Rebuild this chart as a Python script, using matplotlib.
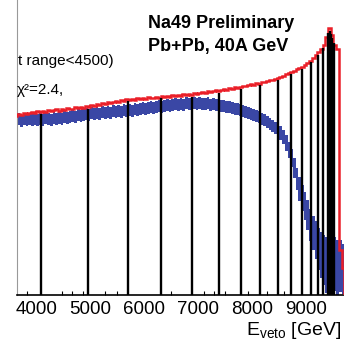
import numpy as np
import matplotlib
matplotlib.use("Agg")
import matplotlib.pyplot as plt

plt.rcParams['font.family'] = ['Liberation Sans', 'DejaVu Sans']
plt.rcParams['mathtext.fontset'] = 'custom'
plt.rcParams['mathtext.rm'] = 'Liberation Sans'
plt.rcParams['mathtext.it'] = 'Liberation Sans:italic'

# 50 GeV bins, 3600 .. 9700
edges = np.arange(3600, 9701, 50)

# measured spectrum (red), arbitrary units
red = [179, 181, 180, 182, 181, 182, 183, 182, 184, 183,
       184, 183, 185, 184, 185, 186, 184, 186, 185, 187,
       186, 186, 188, 187, 188, 187, 189, 188, 190, 189,
       191, 190, 192, 191, 193, 192, 193, 194, 193, 195,
       194, 196, 195, 196, 195, 197, 196, 197, 196, 198,
       197, 197, 198, 197, 199, 198, 199, 198, 200, 199,
       200, 199, 201, 200, 201, 200, 202, 201, 202, 203,
       202, 204, 203, 204, 205, 204, 205, 206, 205, 207,
       206, 208, 207, 208, 209, 209, 210, 211, 210, 212,
       211, 213, 213, 214, 215, 215, 216, 217, 218, 219,
       221, 222, 223, 224, 226, 227, 228, 230, 232, 234,
       237, 240, 243, 246, 250, 258, 267, 260, 250, 246,
       45, 27]

# fit / model spectrum (blue) and its spread
blue = [175, 176, 174, 176, 175, 176, 175, 176, 175, 176,
        175, 177, 176, 175, 177, 176, 177, 176, 178, 177,
        178, 179, 178, 180, 179, 180, 181, 180, 182, 181,
        182, 181, 183, 182, 183, 182, 184, 183, 184, 183,
        185, 184, 185, 184, 186, 185, 186, 187, 186, 187,
        188, 187, 188, 189, 188, 189, 190, 189, 190, 191,
        190, 191, 190, 192, 191, 191, 192, 191, 192, 191,
        191, 192, 190, 191, 190, 190, 189, 189, 188, 188,
        187, 186, 186, 185, 184, 183, 182, 181, 180, 179,
        178, 176, 175, 173, 171, 169, 167, 165, 162, 158,
        152, 145, 137, 127, 116, 106, 97, 89, 80, 70,
        62, 55, 46, 40, 35, 30, 33, 28, 31, 27,
        29, 26]
blue_err = [6] * 98 + [7, 7, 8, 8, 9, 10, 11, 12, 13, 14,
                      15, 16, 17, 19, 21, 23, 25, 28, 28, 29,
                      27, 28, 26, 25]

# centrality cuts on E_veto
cuts = [4080, 4950, 5691, 6313, 6887, 7381, 7794, 8146, 8469, 8715,
        8913, 9085, 9209, 9313, 9406, 9430, 9455, 9480, 9505]

xticks = [4000, 5000, 6000, 7000, 8000, 9000]
minor_ticks = [3831, 4469, 4654, 4857, 5270, 5487, 6493, 7109, 7294,
               7493, 7924, 8265, 8591]

red = np.array(red)
blue = np.array(blue)
blue_err = np.array(blue_err)
centers = 0.5 * (edges[:-1] + edges[1:])

fig = plt.figure(figsize=(3.44, 3.40), dpi=100)
ax = fig.add_axes([17/344, 45/340, 327/344, 295/340])

ax.stairs(blue + blue_err, edges, baseline=blue - blue_err, fill=True,
          color='#3a47a5', zorder=2)
ax.stairs(red, edges, color='#ea1f28', lw=1.8, zorder=3)

tops = np.interp(cuts, centers, red) - 2
ax.vlines(cuts, 0, tops, color='black', lw=1.7, zorder=4)

ax.set_xlim(3641, 9696)
ax.set_ylim(0, 295)
ax.set_yticks([])
ax.set_xticks(xticks)
ax.set_xticks(minor_ticks, minor=True)
ax.tick_params(axis='x', which='major', length=0, pad=4, labelsize=13.5)
ax.tick_params(axis='x', which='minor', length=3, width=0.8, direction='in')
ax.spines['top'].set_visible(False)
ax.spines['right'].set_visible(False)
ax.spines['left'].set_color('#999999')
ax.spines['left'].set_linewidth(0.8)
ax.spines['bottom'].set_linewidth(1.2)

fig.text(148/344, 1 - 23/340, "Na49 Preliminary", fontsize=13,
         fontweight='bold', va='center')
fig.text(148/344, 1 - 46/340, "Pb+Pb, 40A GeV", fontsize=13,
         fontweight='bold', va='center')
fig.text(17.5/344, 1 - 61/340, "t range<4500)", fontsize=11, va='center')
fig.text(17/344, 1 - 90/340, "χ²=2.4,", fontsize=11, va='center')
fig.text(341/344, 1 - 335/340, r"E$_{\mathrm{veto}}$ [GeV]", fontsize=14,
         ha='right', va='baseline')

fig.savefig("out.png", dpi=100)
